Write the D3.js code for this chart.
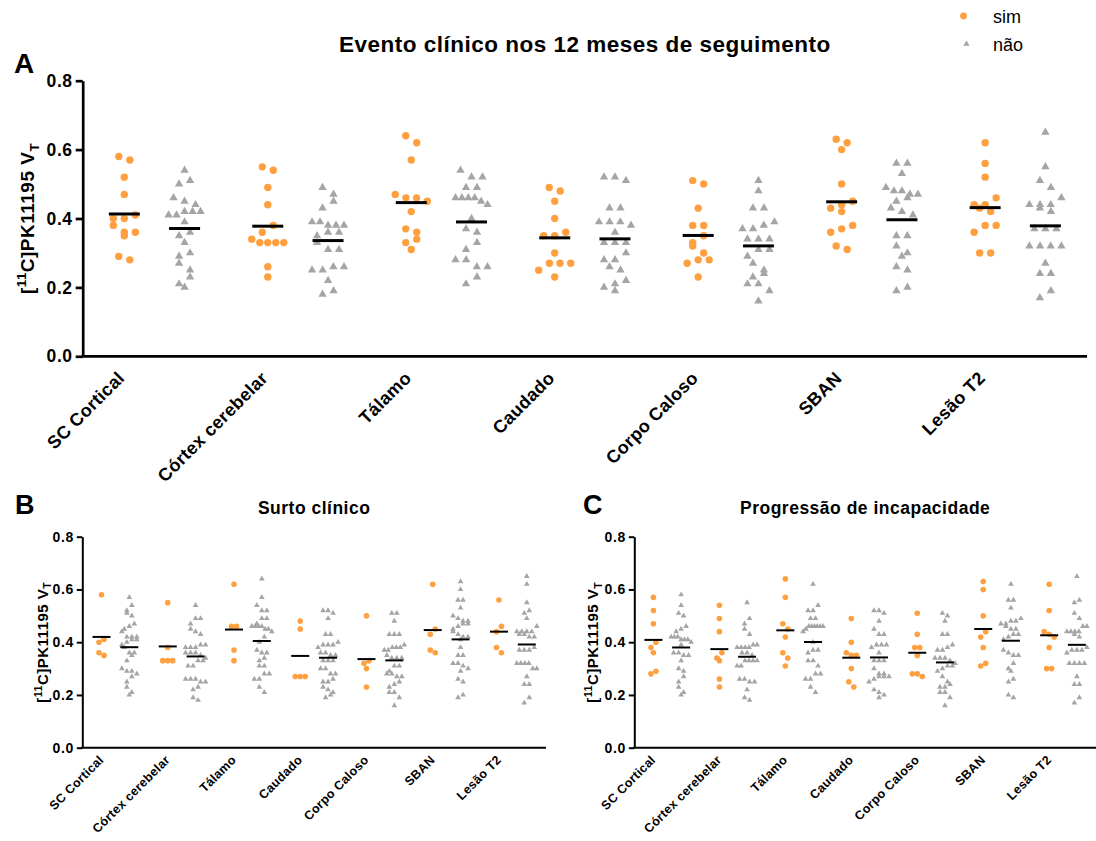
<!DOCTYPE html>
<html>
<head>
<meta charset="utf-8">
<script src="https://cdn.jsdelivr.net/npm/d3@7"></script>
<style>
  body { margin: 0; background: #fff; }
  text { font-family: "Liberation Sans", Arial, sans-serif; fill: #000; }
</style>
</head>
<body>
<div id="chart"></div>
<script>
// regions (x categories)
const regions = ["SC Cortical", "Córtex cerebelar", "Tálamo", "Caudado", "Corpo Caloso", "SBAN", "Lesão T2"];

// patients without clinical event in 12 months, per region
const semEvento = [
  [0.54, 0.51, 0.50, 0.46, 0.45, 0.44, 0.42, 0.42, 0.42, 0.41, 0.41, 0.39, 0.36, 0.35, 0.33, 0.30, 0.29, 0.27, 0.25, 0.23, 0.21, 0.20],
  [0.49, 0.47, 0.45, 0.43, 0.39, 0.39, 0.38, 0.38, 0.38, 0.36, 0.36, 0.35, 0.33, 0.31, 0.31, 0.26, 0.26, 0.25, 0.25, 0.22, 0.19, 0.18],
  [0.54, 0.52, 0.52, 0.49, 0.49, 0.46, 0.46, 0.46, 0.46, 0.45, 0.44, 0.40, 0.37, 0.36, 0.33, 0.31, 0.28, 0.28, 0.26, 0.26, 0.23, 0.21],
  [0.52, 0.52, 0.51, 0.43, 0.43, 0.39, 0.39, 0.39, 0.38, 0.36, 0.33, 0.33, 0.33, 0.30, 0.28, 0.28, 0.26, 0.25, 0.22, 0.21, 0.20, 0.19],
  [0.51, 0.48, 0.43, 0.43, 0.39, 0.38, 0.37, 0.37, 0.34, 0.34, 0.34, 0.31, 0.31, 0.29, 0.27, 0.25, 0.24, 0.23, 0.21, 0.21, 0.19, 0.16],
  [0.56, 0.56, 0.53, 0.49, 0.48, 0.48, 0.47, 0.47, 0.46, 0.45, 0.43, 0.42, 0.41, 0.35, 0.35, 0.32, 0.30, 0.29, 0.26, 0.25, 0.20, 0.19],
  [0.65, 0.55, 0.51, 0.49, 0.46, 0.44, 0.44, 0.44, 0.43, 0.42, 0.37, 0.37, 0.37, 0.32, 0.32, 0.32, 0.32, 0.27, 0.24, 0.24, 0.19, 0.17]
];

// patients with clinical relapse (surto), per region
const surto = [
  [0.58, 0.41, 0.40, 0.36, 0.35],
  [0.55, 0.38, 0.33, 0.33, 0.33],
  [0.62, 0.46, 0.46, 0.37, 0.33],
  [0.48, 0.45, 0.27, 0.27, 0.27],
  [0.50, 0.33, 0.32, 0.30, 0.23],
  [0.62, 0.45, 0.43, 0.37, 0.36],
  [0.56, 0.46, 0.44, 0.38, 0.36]
];

// patients with disability progression, per region
const progressao = [
  [0.57, 0.52, 0.47, 0.40, 0.38, 0.36, 0.29, 0.28],
  [0.54, 0.49, 0.44, 0.36, 0.34, 0.33, 0.26, 0.23],
  [0.64, 0.57, 0.47, 0.45, 0.42, 0.36, 0.34, 0.31],
  [0.49, 0.40, 0.36, 0.35, 0.35, 0.30, 0.25, 0.23],
  [0.51, 0.43, 0.38, 0.38, 0.35, 0.28, 0.28, 0.27],
  [0.63, 0.60, 0.50, 0.44, 0.42, 0.38, 0.32, 0.31],
  [0.62, 0.52, 0.44, 0.43, 0.42, 0.38, 0.30, 0.30]
];

const yTicks = [0, 0.2, 0.4, 0.6, 0.8];
const groups = ["sim", "não"];

const orange = "#FFA040";
const grey = "#A5A5A8";

const svg = d3.select("#chart").append("svg")
  .attr("width", 1096)
  .attr("height", 841);

const panels = [
  {
    letter: "A", title: "Evento clínico nos 12 meses de seguimento",
    sim: regions.map((r, i) => surto[i].concat(progressao[i])),
    nao: regions.map((r, i) => semEvento[i]),
    x0: 82.7, x1: 1087, yTop: 80.7, yBot: 356.3,
    r: 3.7, tri: 30, rowH: 10, sp: 11, maxW: 32, meanHalf: 15.5, meanW: 3,
    axisW: 2.7, tickLen: 7, tickFont: 17.5, xFont: 18, xOff: [-29, 23],
    yTitleFont: 19, yTitleX: 34, titleFont: 22.5, titleY: 52,
    letterX: 14, letterY: 72.7, letterFont: 28
  },
  {
    letter: "B", title: "Surto clínico",
    sim: regions.map((r, i) => surto[i]),
    nao: regions.map((r, i) => semEvento[i].concat(progressao[i])),
    x0: 82.3, x1: 546, yTop: 536.7, yBot: 747.7,
    r: 2.8, tri: 14, rowH: 7, sp: 5, maxW: 20, meanHalf: 9, meanW: 2,
    axisW: 2, tickLen: 5.5, tickFont: 14, xFont: 12.5, xOff: [-11, 13],
    yTitleFont: 15, yTitleX: 47.5, titleFont: 17.5, titleY: 514,
    letterX: 15, letterY: 514, letterFont: 27
  },
  {
    letter: "C", title: "Progressão de incapacidade",
    sim: regions.map((r, i) => progressao[i]),
    nao: regions.map((r, i) => semEvento[i].concat(surto[i])),
    x0: 634.3, x1: 1096, yTop: 536.7, yBot: 747.7,
    r: 2.8, tri: 14, rowH: 7, sp: 5, maxW: 20, meanHalf: 9, meanW: 2,
    axisW: 2, tickLen: 5.5, tickFont: 14, xFont: 12.5, xOff: [-11, 13],
    yTitleFont: 15, yTitleX: 598, titleFont: 17.5, titleY: 514,
    letterX: 583, letterY: 514, letterFont: 27
  }
];

// arrange points of one column in rows, GraphPad style
function arrange(values, y, p) {
  const sorted = values.slice().sort((a, b) => b - a);
  const rows = [];
  let cur = null;
  sorted.forEach(v => {
    const py = y(v);
    if (cur && py - cur.top < p.rowH) cur.items.push(v);
    else { cur = { top: py, items: [v] }; rows.push(cur); }
  });
  const out = [];
  rows.forEach((row, ri) => {
    const n = row.items.length;
    const sp = n > 1 ? Math.min(p.sp, p.maxW / (n - 1)) : 0;
    row.items.forEach((v, j) => {
      const k = ri % 2 ? n - 1 - j : j;
      out.push({ v: v, dx: (k - (n - 1) / 2) * sp });
    });
  });
  return out;
}

panels.forEach(p => {
  const g = svg.append("g");

  const x = d3.scaleBand().domain(regions).range([p.x0, p.x1]);
  const sub = d3.scalePoint().domain(groups)
    .range([-x.bandwidth() * 0.21, x.bandwidth() * 0.21]);
  const y = d3.scaleLinear().domain([0, 0.8]).range([p.yBot, p.yTop]);

  // y axis
  const ya = g.append("g")
    .attr("transform", `translate(${p.x0},0)`)
    .call(d3.axisLeft(y).tickValues(yTicks).tickFormat(d3.format(".1f"))
      .tickSize(p.tickLen).tickSizeOuter(0).tickPadding(3));
  ya.select(".domain").attr("stroke-width", p.axisW).attr("stroke", "#000");
  ya.selectAll(".tick line").attr("stroke-width", p.axisW).attr("stroke", "#000");
  ya.selectAll(".tick text")
    .attr("font-size", p.tickFont).attr("font-weight", "bold")
    .attr("letter-spacing", 0.6).attr("fill", "#000")
    .attr("font-family", "Liberation Sans, Arial, sans-serif");

  // x axis
  const xa = g.append("g")
    .attr("transform", `translate(0,${p.yBot})`)
    .call(d3.axisBottom(x).tickSize(0).tickSizeOuter(0));
  xa.select(".domain").attr("stroke-width", p.axisW).attr("stroke", "#000")
    .attr("d", `M${p.x0 - p.axisW / 2},0H${p.x1}`);
  xa.selectAll(".tick text")
    .attr("x", 0).attr("y", 0).attr("dy", 0)
    .attr("text-anchor", "end")
    .attr("transform", `translate(${p.xOff[0]},${p.xOff[1]}) rotate(-45)`)
    .attr("font-size", p.xFont).attr("font-weight", "bold")
    .attr("letter-spacing", 0.3).attr("fill", "#000")
    .attr("font-family", "Liberation Sans, Arial, sans-serif");

  // points
  regions.forEach((reg, i) => {
    const cx = x(reg) + x.bandwidth() / 2;

    arrange(p.sim[i], y, p).forEach(d => {
      g.append("circle")
        .attr("cx", cx + sub("sim") + d.dx)
        .attr("cy", y(d.v))
        .attr("r", p.r)
        .attr("fill", orange);
    });
    arrange(p.nao[i], y, p).forEach(d => {
      g.append("path")
        .attr("d", d3.symbol(d3.symbolTriangle, p.tri)())
        .attr("transform", `translate(${cx + sub("não") + d.dx},${y(d.v)})`)
        .attr("fill", grey);
    });

    // mean lines
    [["sim", p.sim[i]], ["não", p.nao[i]]].forEach(([k, vals]) => {
      const m = d3.mean(vals);
      g.append("line")
        .attr("x1", cx + sub(k) - p.meanHalf)
        .attr("x2", cx + sub(k) + p.meanHalf)
        .attr("y1", y(m)).attr("y2", y(m))
        .attr("stroke", "#000").attr("stroke-width", p.meanW);
    });
  });

  // y axis title
  const yt = g.append("text")
    .attr("transform", `translate(${p.yTitleX},${(p.yTop + p.yBot) / 2}) rotate(-90)`)
    .attr("text-anchor", "middle")
    .attr("font-size", p.yTitleFont)
    .attr("font-weight", "bold")
    .attr("letter-spacing", 0.5);
  yt.append("tspan").text("[");
  yt.append("tspan").attr("font-size", p.yTitleFont * 0.7).attr("dy", -p.yTitleFont * 0.4).text("11");
  yt.append("tspan").attr("dy", p.yTitleFont * 0.4).text("C]PK11195 V");
  yt.append("tspan").attr("font-size", p.yTitleFont * 0.7).attr("dy", p.yTitleFont * 0.25).text("T");

  // title
  g.append("text")
    .attr("x", (p.x0 + p.x1) / 2)
    .attr("y", p.titleY)
    .attr("text-anchor", "middle")
    .attr("font-size", p.titleFont)
    .attr("font-weight", "bold")
    .attr("letter-spacing", 0.5)
    .text(p.title);

  // panel letter
  g.append("text")
    .attr("x", p.letterX)
    .attr("y", p.letterY)
    .attr("font-size", p.letterFont)
    .attr("font-weight", "bold")
    .text(p.letter);
});

// legend
const legend = svg.append("g");
legend.append("circle").attr("cx", 963.5).attr("cy", 16).attr("r", 3.4).attr("fill", orange);
legend.append("path")
  .attr("d", d3.symbol(d3.symbolTriangle, 16)())
  .attr("transform", "translate(966.5,44)")
  .attr("fill", grey);
legend.append("text").attr("x", 993).attr("y", 23).attr("font-size", 18).text("sim");
legend.append("text").attr("x", 993).attr("y", 51).attr("font-size", 18).text("não");
</script>
</body>
</html>
